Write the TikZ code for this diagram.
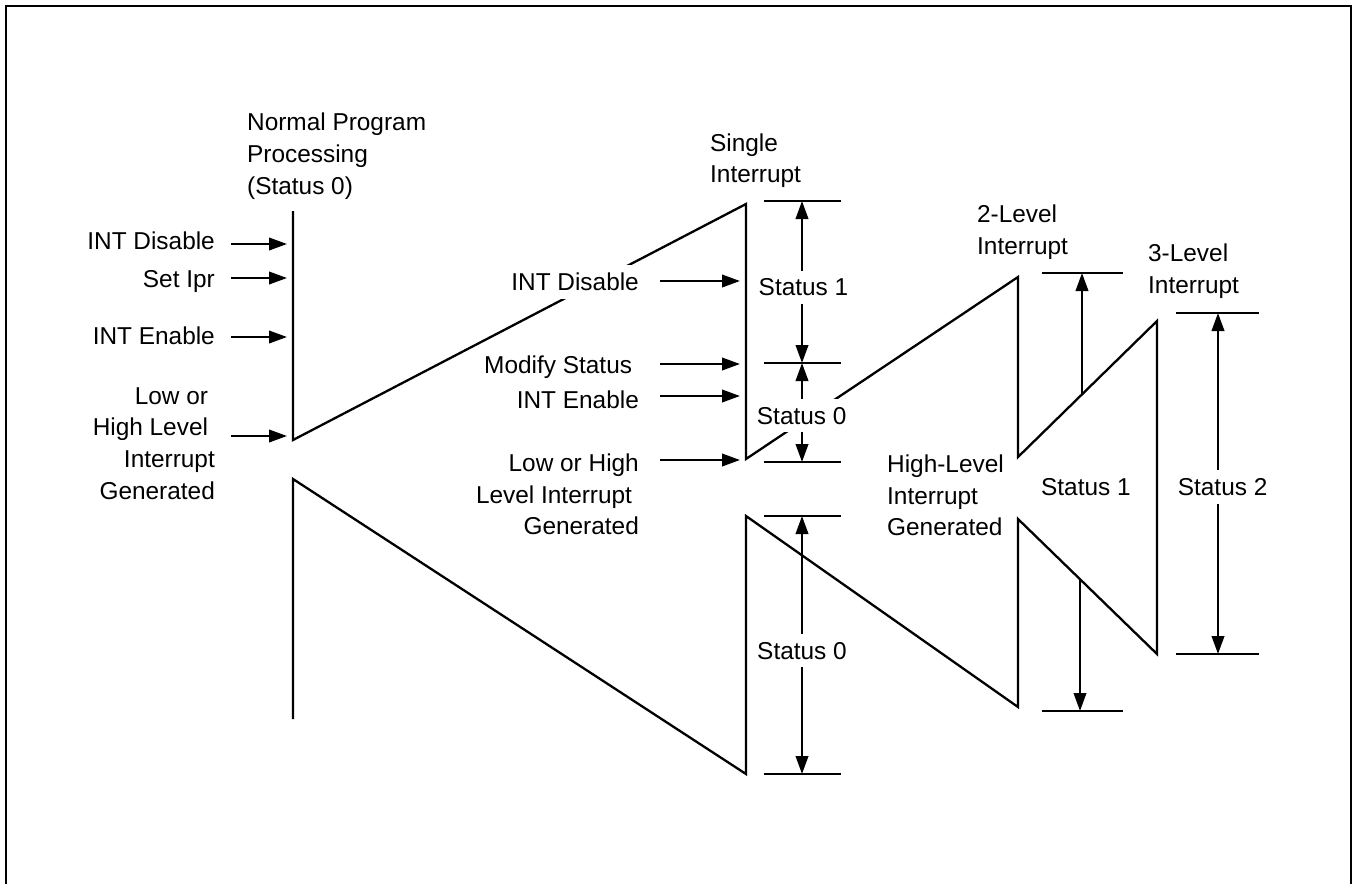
\documentclass[tikz,border=0pt]{standalone}
\usepackage{fontspec}
\setmainfont{Liberation Sans}
\usetikzlibrary{arrows.meta}
\begin{document}
\begin{tikzpicture}[x=1pt,y=-1pt,line width=2.3pt,
  lbl/.style={font=\fontsize{24.4}{31.7}\selectfont, inner xsep=3pt, inner ysep=8pt, fill=white},
  arr/.style={-{Triangle[length=18pt,width=12.5pt]}},
  dim/.style={{Triangle[length=18pt,width=12.5pt]}-{Triangle[length=18pt,width=12.5pt]}},
  levelline/.style={line width=2.3pt},
  framebox/.style={line width=2.3pt}]
\useasboundingbox (0,0) rectangle (1353,884);
% frame (open at the bottom)
\draw[framebox] (5.7,884) -- (5.7,5.7) -- (1350.7,5.7) -- (1350.7,884);
% processing zigzag
\draw[line join=miter] (293,211) -- (293,440) -- (746,204) -- (746,459) -- (1018,277) -- (1018,457)
  -- (1157,321) -- (1157,654) -- (1018,519) -- (1018,707) -- (746,516) -- (746,774) -- (293,479) -- (293,719);
% level lines
\draw[levelline] (764,201) -- (841,201);
\draw[levelline] (764,363) -- (841,363);
\draw[levelline] (764,462) -- (841,462);
\draw[levelline] (764,516) -- (841,516);
\draw[levelline] (764,774) -- (841,774);
\draw[levelline] (1042,273) -- (1123,273);
\draw[levelline] (1042,711) -- (1123,711);
\draw[levelline] (1176,313) -- (1259,313);
\draw[levelline] (1176,654) -- (1259,654);
% coordinates for arrows
\coordinate (la1) at (231,244); \coordinate (lb1) at (287,244);
\coordinate (la2) at (231,278); \coordinate (lb2) at (287,278);
\coordinate (la3) at (231,337); \coordinate (lb3) at (287,337);
\coordinate (la4) at (231,436); \coordinate (lb4) at (287,436);
\coordinate (ma1) at (660,281); \coordinate (mb1) at (740,281);
\coordinate (ma2) at (660,364); \coordinate (mb2) at (740,364);
\coordinate (ma3) at (660,396); \coordinate (mb3) at (740,396);
\coordinate (ma4) at (660,460); \coordinate (mb4) at (740,460);
\coordinate (d1) at (802,201); \coordinate (d2) at (802,363); \coordinate (d3) at (802,462);
\coordinate (d4) at (802,516); \coordinate (d5) at (802,774);
\coordinate (e1) at (1082,394); \coordinate (e2) at (1082,273);
\coordinate (e3) at (1080,579); \coordinate (e4) at (1080,711);
\coordinate (f1) at (1218,313); \coordinate (f2) at (1218,654);
% input arrows
\draw[arr] (la1) -- (lb1);
\draw[arr] (la2) -- (lb2);
\draw[arr] (la3) -- (lb3);
\draw[arr] (la4) -- (lb4);
\draw[arr] (ma1) -- (mb1);
\draw[arr] (ma2) -- (mb2);
\draw[arr] (ma3) -- (mb3);
\draw[arr] (ma4) -- (mb4);
% status arrows
\draw[dim] (d1) -- (d2);
\draw[dim] (d2) -- (d3);
\draw[dim] (d4) -- (d5);
\draw[arr] (e1) -- (e2);
\draw[arr] (e3) -- (e4);
\draw[dim] (f1) -- (f2);
% labels (multi-line nodes: base = baseline of the last line)
\node[lbl, anchor=base west, align=left] (npp) at (243,194.1) {Normal Program\\Processing\\(Status 0)};
\node[lbl, anchor=base east] (ldis) at (219,249.2) {INT Disable};
\node[lbl, anchor=base east] (lipr) at (219,287) {Set Ipr};
\node[lbl, anchor=base east] (len) at (219,344.8) {INT Enable};
\node[lbl, anchor=base east, align=right] (llow) at (219,499.1) {Low or\kern6.8pt\\High Level\kern6.8pt\\Interrupt\\Generated};
\node[lbl, anchor=base west, align=left] (single) at (706,182.7) {Single\\Interrupt};
\node[lbl, anchor=base east] (mdis) at (643,290.8) {INT Disable};
\node[lbl, anchor=base east] (mmod) at (643,373.2) {Modify Status\kern6.8pt};
\node[lbl, anchor=base east] (men) at (643,408.2) {INT Enable};
\node[lbl, anchor=base east, align=right] (mlow) at (643,534.9) {Low or High\\Level Interrupt\kern6.8pt\\Generated};
\node[lbl, anchor=base west, align=left] (two) at (973,254.2) {2-Level\\Interrupt};
\node[lbl, anchor=base west, align=left] (three) at (1144,293.2) {3-Level\\Interrupt};
\node[lbl, anchor=base west, align=left] (high) at (883,535.9) {High-Level\\Interrupt\\Generated};
\node[lbl, anchor=base] (s1) at (803.5,295.8) {Status 1};
\node[lbl, anchor=base] (s0a) at (801.7,424.2) {Status 0};
\node[lbl, anchor=base] (s0b) at (802,659.2) {Status 0};
\node[lbl, anchor=base west] (s1b) at (1037,495.8) {Status 1};
\node[lbl, anchor=base west] (s2) at (1173.7,495.5) {Status 2};
\end{tikzpicture}
\end{document}
